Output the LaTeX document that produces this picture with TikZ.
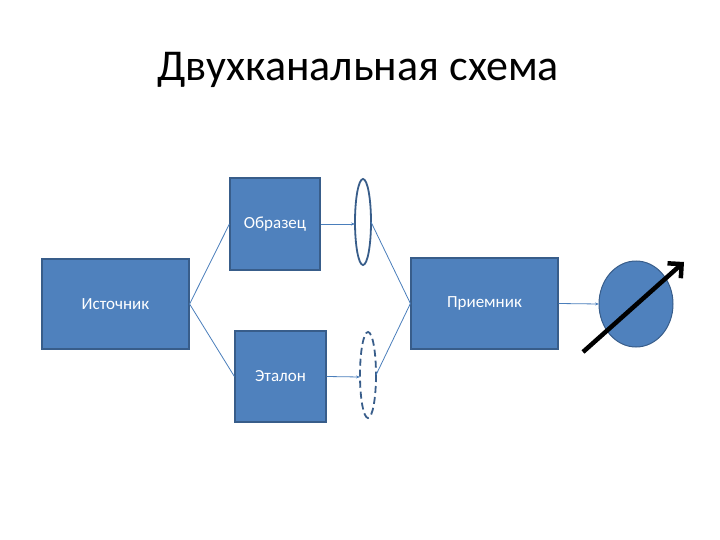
\documentclass[tikz,border=0pt]{standalone}
\usepackage{fontspec}
\setmainfont{Carlito}
\usetikzlibrary{arrows.meta}
\definecolor{bfill}{HTML}{4F81BD}
\definecolor{bdraw}{HTML}{385D8A}
\definecolor{lcol}{HTML}{4A7EBB}
\begin{document}
\begin{tikzpicture}[x=1pt,y=-1pt,
  blk/.style={draw=bdraw,line width=1.2pt,fill=bfill,text=white,font=\fontsize{17}{20}\selectfont,inner sep=0pt},
  conn/.style={draw=lcol,line width=0.8pt}]
\useasboundingbox (0,0) rectangle (720,540);
\node[font=\fontsize{44}{52}\selectfont] (title) at (358,70) {Двухканальная схема};
\node[blk,minimum width=147pt,minimum height=90pt] (src) at (115.5,304) {Источник};
\node[blk,minimum width=90pt,minimum height=92pt] (obr) at (275,224) {Образец};
\node[blk,minimum width=91pt,minimum height=91pt] (et) at (280.5,376.5) {Эталон};
\node[blk,minimum width=147pt,minimum height=91pt] (rec) at (484.5,303.5) {Приемник};
\draw[draw=bdraw,line width=1.8pt] (363,222) ellipse (8 and 43);
\coordinate (e1l) at (355,224); \coordinate (e1r) at (371,222);
\draw[draw=bdraw,line width=1.8pt,dash pattern=on 7pt off 4pt] (368,375) ellipse (8 and 43);
\coordinate (e2l) at (360,377); \coordinate (e2r) at (376,375);
\draw[draw=bdraw,line width=1pt,fill=bfill] (636,304) ellipse (37 and 43);
\coordinate (cl) at (599,304);
\coordinate (a1) at (583,352); \coordinate (a2) at (684,262);
\draw[conn] (src.east) -- (obr.west);
\draw[conn] (src.east) -- (et.west);
\draw[conn,-{Stealth[length=4pt]}] (obr.east) -- (e1l);
\draw[conn,-{Stealth[length=4pt]}] (et.east) -- (e2l);
\draw[conn] (e1r) -- (rec.west);
\draw[conn] (e2r) -- (rec.west);
\draw[conn,-{Stealth[length=4pt]}] (rec.east) -- (cl);
\draw[line width=4.5pt,-{Straight Barb[length=10pt,width=20pt,line width=4.5pt]}] (a1) -- (a2);
\end{tikzpicture}
\end{document}
